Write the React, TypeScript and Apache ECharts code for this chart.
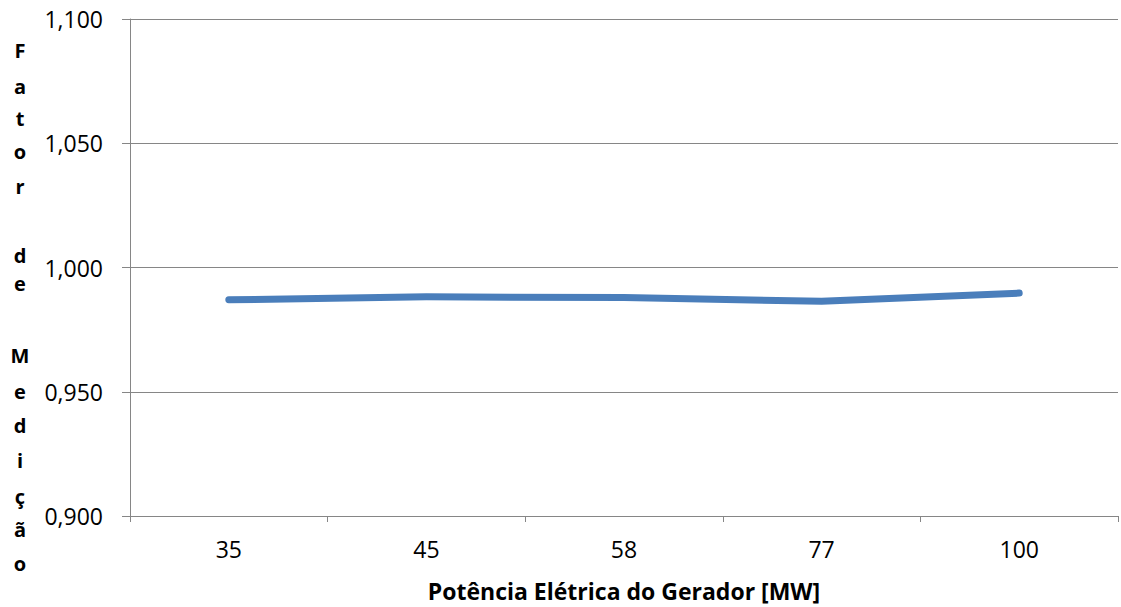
import React, { useEffect, useRef } from "react";
import * as echarts from "echarts";

const categories = ["35", "45", "58", "77", "100"];
const fatorValues = [0.987, 0.9882, 0.9879, 0.9864, 0.9897];
const yMin = 0.9;
const yMax = 1.1;
const yStep = 0.05;
const xTitle = "Potência Elétrica do Gerador [MW]";
const yTitleLetters = ["F", "a", "t", "o", "r", "d", "e", "M", "e", "d", "i", "ç", "ã", "o"];
// layout: vertical centre of each stacked title letter (px)
const yTitleLetterY = [50, 86, 118, 151, 186, 255, 283, 355, 391, 425, 460, 496, 529, 563];

export default function App() {
  const ref = useRef<HTMLDivElement>(null);
  useEffect(() => {
    if (!ref.current) return;
    const chart = echarts.init(ref.current, null, { renderer: "svg" });
    const font = "'Open Sans', sans-serif";
    chart.setOption({
      animation: false,
      backgroundColor: "#ffffff",
      grid: { left: 130, right: 3, top: 19, bottom: 89 },
      xAxis: {
        type: "category",
        data: categories,
        boundaryGap: true,
        axisLine: { lineStyle: { color: "#868686", width: 1 } },
        axisTick: { show: true, length: 6, lineStyle: { color: "#868686" } },
        axisLabel: { color: "#000", fontFamily: font, fontSize: 23, margin: 21 },
        name: xTitle,
        nameLocation: "middle",
        nameGap: 63,
        nameTextStyle: { color: "#000", fontFamily: font, fontSize: 23, fontWeight: "bold" },
      },
      yAxis: {
        type: "value",
        min: yMin,
        max: yMax,
        interval: yStep,
        axisLine: { show: true, lineStyle: { color: "#868686", width: 1 } },
        axisTick: { show: true, length: 8, lineStyle: { color: "#868686" } },
        splitLine: { show: true, lineStyle: { color: "#868686", width: 1 } },
        axisLabel: {
          color: "#000",
          fontFamily: font,
          fontSize: 23,
          margin: 27,
          formatter: (v: number) => v.toFixed(3).replace(".", ","),
        },
      },
      graphic: yTitleLetters.map((ch, i) => ({
        type: "text",
        x: 20,
        y: yTitleLetterY[i],
        style: {
          text: ch,
          fontFamily: font,
          fontSize: 20,
          fontWeight: "bold",
          align: "center",
          verticalAlign: "middle",
          fill: "#000",
        },
      })),
      series: [
        {
          type: "line",
          data: fatorValues,
          symbol: "none",
          lineStyle: { color: "#4A7EBB", width: 7, cap: "round", join: "round" },
        },
      ],
    });
    return () => chart.dispose();
  }, []);
  return (
    <div
      ref={ref}
      style={{ position: "fixed", left: 0, top: 0, width: 1121, height: 607 }}
    />
  );
}
